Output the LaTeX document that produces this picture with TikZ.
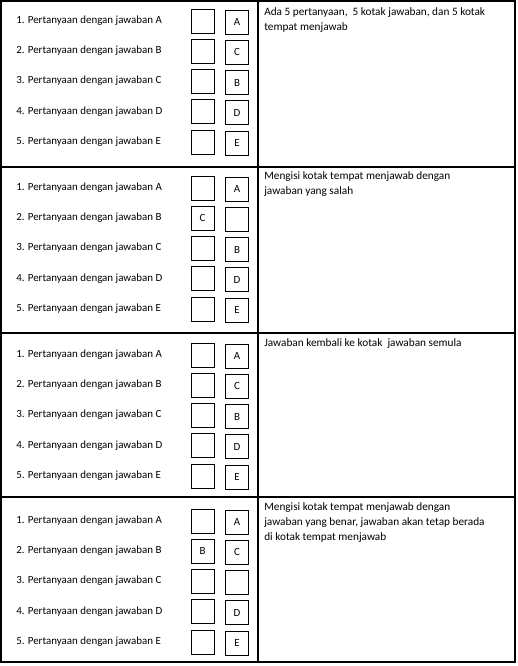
\documentclass[tikz,border=0pt]{standalone}
\usepackage{fontspec}
\setmainfont{Carlito}
\tikzset{
  qtext/.style={anchor=west, inner sep=0pt, font=\fontsize{8.2}{9}\selectfont},
  abox/.style={draw, line width=0.7pt, minimum width=17.25pt, minimum height=18pt, inner sep=0pt, font=\fontsize{8.2}{9}\selectfont},
  desc/.style={anchor=north west, inner sep=0pt, align=left, font=\fontsize{8.45}{11.25}\selectfont},
  grid/.style={line width=0.8pt}
}
\newcommand\qitem[6]{%
  \node[qtext] (t#1-#2) at (16,#4-0.5) {#2. Pertanyaan dengan jawaban #3};
  \node[abox] (l#1-#2) at (202.5,#4) {#5};
  \node[abox] (r#1-#2) at (237,#4+1) {#6};
}
\newcommand\qblock[3]{% row, top y, contents
  \foreach \i/\L/\a/\b [evaluate=\i as \yy using {#2+12+(\i-1)*30.3}] in {#3} {
    \qitem{#1}{\i}{\L}{\yy}{\a}{\b}
  }
}
\begin{document}
\begin{tikzpicture}[x=0.75pt,y=-0.75pt]
\useasboundingbox (0,0) rectangle (517,666);
\draw[grid] (1,1) rectangle (515,662);
\draw[grid] (258,1) -- (258,662);
\draw[grid] (1,167) -- (515,167);
\draw[grid] (1,333) -- (515,333);
\draw[grid] (1,497) -- (515,497);

\qblock{1}{9}{1/A//A,2/B//C,3/C//B,4/D//D,5/E//E}
\qblock{2}{176}{1/A//A,2/B/C/,3/C//B,4/D//D,5/E//E}
\qblock{3}{343}{1/A//A,2/B//C,3/C//B,4/D//D,5/E//E}
\qblock{4}{509}{1/A//A,2/B/B/C,3/C//,4/D//D,5/E//E}

\node[desc] (d1) at (264,7) {Ada 5 pertanyaan,\ \ 5 kotak jawaban, dan 5 kotak\\tempat menjawab};
\node[desc] (d2) at (264,171) {Mengisi kotak tempat menjawab dengan\\jawaban yang salah};
\node[desc] (d3) at (264,338) {Jawaban kembali ke kotak\ \ jawaban semula};
\node[desc] (d4) at (264,502) {Mengisi kotak tempat menjawab dengan\\jawaban yang benar,\ jawaban akan tetap berada\\di kotak tempat menjawab};
\end{tikzpicture}
\end{document}
